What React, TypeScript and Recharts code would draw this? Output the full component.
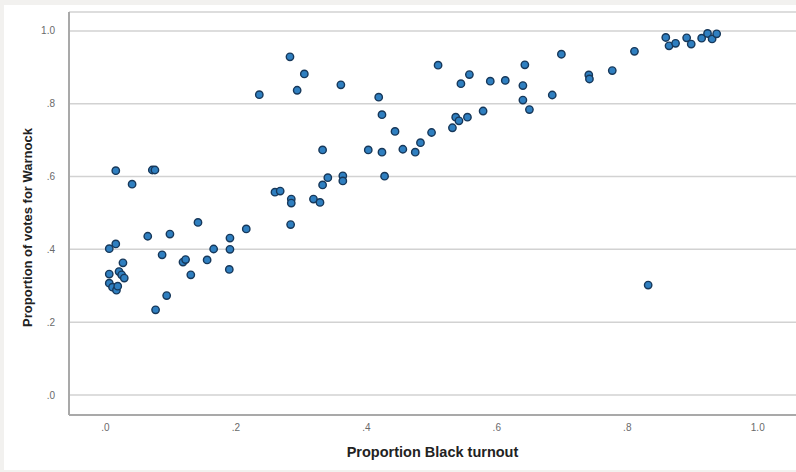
import React from "react";
import { ScatterChart, Scatter, XAxis, YAxis, ZAxis, CartesianGrid } from "recharts";

const blackTurnout = [
  0.006, 0.016, 0.006, 0.027, 0.021, 0.025, 0.029, 0.006, 0.011, 0.017, 0.019,
  0.016, 0.072, 0.076, 0.041, 0.065, 0.099, 0.087, 0.094, 0.077, 0.119, 0.123,
  0.131, 0.142, 0.156, 0.166, 0.191, 0.191, 0.19, 0.216, 0.236, 0.26, 0.268,
  0.283, 0.294, 0.305, 0.285, 0.285, 0.284, 0.319, 0.329, 0.333, 0.341, 0.333,
  0.364, 0.364, 0.361, 0.419, 0.424, 0.403, 0.424, 0.428, 0.444, 0.456, 0.475,
  0.483, 0.5, 0.51, 0.532, 0.537, 0.542, 0.555, 0.545, 0.558, 0.579, 0.59,
  0.613, 0.643, 0.64, 0.64, 0.65, 0.685, 0.699, 0.741, 0.742, 0.777, 0.811,
  0.832, 0.859, 0.864, 0.874, 0.891, 0.898, 0.914, 0.923, 0.93, 0.937,
];

const warnockShare = [
  0.402, 0.415, 0.332, 0.363, 0.339, 0.33, 0.321, 0.307, 0.296, 0.288, 0.299,
  0.616, 0.618, 0.618, 0.579, 0.436, 0.442, 0.385, 0.273, 0.234, 0.365, 0.372,
  0.33, 0.474, 0.371, 0.401, 0.4, 0.431, 0.345, 0.456, 0.825, 0.557, 0.56,
  0.929, 0.837, 0.882, 0.538, 0.527, 0.468, 0.538, 0.529, 0.673, 0.597, 0.577,
  0.602, 0.588, 0.852, 0.818, 0.77, 0.673, 0.667, 0.601, 0.724, 0.675, 0.667,
  0.693, 0.721, 0.906, 0.734, 0.763, 0.753, 0.763, 0.855, 0.88, 0.78, 0.862,
  0.864, 0.907, 0.85, 0.81, 0.784, 0.824, 0.936, 0.879, 0.868, 0.891, 0.944,
  0.302, 0.982, 0.959, 0.966, 0.981, 0.964, 0.98, 0.993, 0.978, 0.992,
];

const axisTicks = [0, 0.2, 0.4, 0.6, 0.8, 1.0];
const xTitle = "Proportion Black turnout";
const yTitle = "Proportion of votes for Warnock";

const data = blackTurnout.map((x, i) => ({ x, y: warnockShare[i] }));

const fmt = (v: number) => (v === 1 ? "1.0" : "." + Math.round(v * 10));

const Dot = (props: any) => {
  const { cx, cy } = props;
  return <circle cx={cx} cy={cy} r={3.7} fill="#2f7fc0" stroke="#17385a" strokeWidth={1.4} />;
};

const tickStyle = { fill: "#6a6a6a", fontSize: 10, fontFamily: "Liberation Sans, Arial, sans-serif" };

const XTitle = (props: any) => {
  const vb = props.viewBox;
  return (
    <text
      x={vb.x + vb.width / 2}
      y={vb.y + vb.height + 12}
      textAnchor="middle"
      fontSize={14.5}
      fontWeight="bold"
      fill="#222"
      fontFamily="Liberation Sans, Arial, sans-serif"
    >
      {xTitle}
    </text>
  );
};

const YTitle = (props: any) => {
  const vb = props.viewBox;
  const cx = vb.x + 32;
  const cy = vb.y + vb.height / 2 + 14;
  return (
    <text
      x={cx}
      y={cy}
      transform={`rotate(-90, ${cx}, ${cy})`}
      textAnchor="middle"
      fontSize={13}
      fontWeight="bold"
      fill="#222"
      fontFamily="Liberation Sans, Arial, sans-serif"
    >
      {yTitle}
    </text>
  );
};

export default function App() {
  return (
    <div style={{ position: "absolute", left: 0, top: 0, width: 796, height: 472, background: "#f2f1ef" }}>
      <div style={{ position: "absolute", left: 4, top: 5, width: 792, height: 465, background: "#ffffff" }} />
      <div style={{ position: "absolute", left: 0, top: 0 }}>
        <ScatterChart width={796} height={472} margin={{ top: 12, right: 0, bottom: 27, left: 0 }}>
          <CartesianGrid vertical={false} stroke="#d2d2d2" strokeWidth={1.5} />
          <XAxis
            type="number"
            dataKey="x"
            domain={[-0.0557, 1.0586]}
            ticks={axisTicks}
            tickFormatter={fmt}
            height={30}
            tickLine={false}
            tickSize={5}
            tickMargin={4}
            axisLine={{ stroke: "#a9a9a9", strokeWidth: 2 }}
            tick={tickStyle}
            allowDataOverflow
            label={<XTitle />}
          />
          <YAxis
            type="number"
            dataKey="y"
            domain={[-0.055, 1.052]}
            ticks={axisTicks}
            tickFormatter={fmt}
            width={69}
            tickLine={false}
            tickSize={6}
            tickMargin={8}
            axisLine={{ stroke: "#a9a9a9", strokeWidth: 2 }}
            tick={tickStyle}
            allowDataOverflow
            label={<YTitle />}
          />
          <ZAxis range={[45, 45]} />
          <Scatter data={data} shape={<Dot />} isAnimationActive={false} />
        </ScatterChart>
      </div>
    </div>
  );
}
